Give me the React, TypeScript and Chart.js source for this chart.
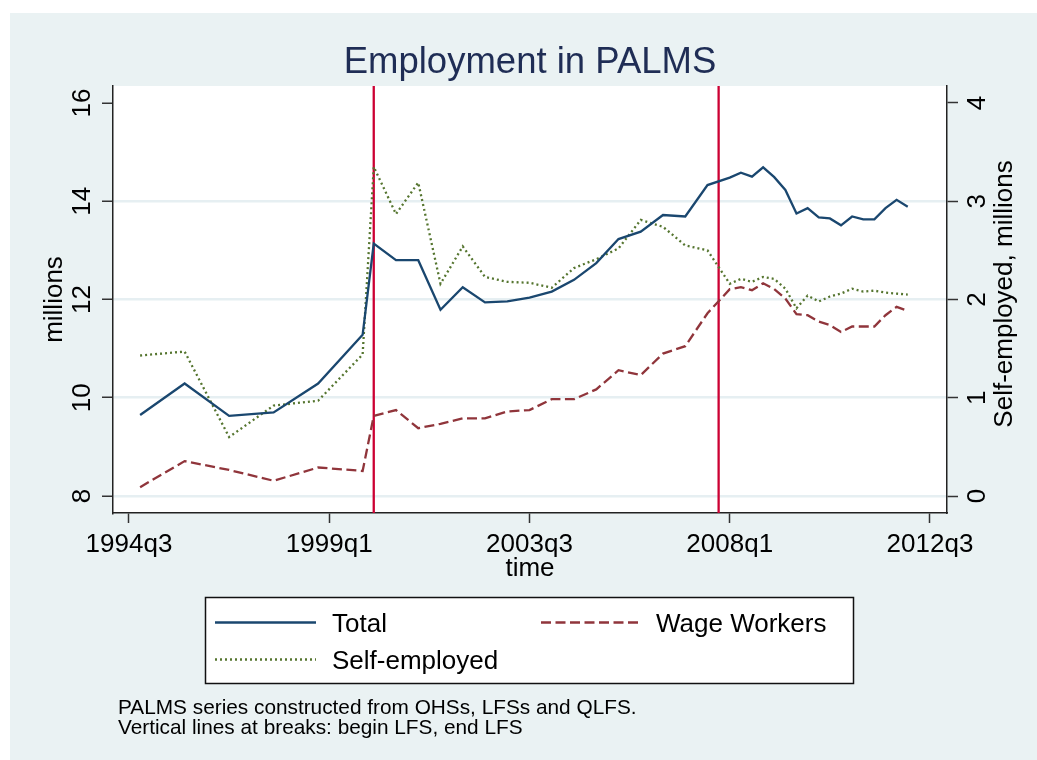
import React, { useEffect, useRef } from "react";
import { Chart, registerables } from "chart.js";

Chart.register(...registerables);

// ---------------- data ----------------
const quarters = [
  "1994q4", "1995q4", "1996q4", "1997q4", "1998q4", "1999q4",
  "2000q1", "2000q3", "2001q1", "2001q3", "2002q1", "2002q3", "2003q1", "2003q3",
  "2004q1", "2004q3", "2005q1", "2005q3", "2006q1", "2006q3", "2007q1", "2007q3",
  "2008q1", "2008q2", "2008q3", "2008q4", "2009q1", "2009q2", "2009q3", "2009q4",
  "2010q1", "2010q2", "2010q3", "2010q4", "2011q1", "2011q2", "2011q3", "2011q4", "2012q1",
];

const totalEmployment = [
  9.65, 10.29, 9.63, 9.7, 10.29, 11.28,
  13.14, 12.8, 12.8, 11.79, 12.25, 11.94, 11.96, 12.04,
  12.16, 12.4, 12.74, 13.23, 13.38, 13.72, 13.69, 14.33,
  14.48, 14.58, 14.5, 14.69, 14.49, 14.23, 13.75, 13.86,
  13.67, 13.65, 13.51, 13.69, 13.63, 13.63, 13.86, 14.03, 13.89,
];

const wageWorkers = [
  8.18, 8.71, 8.53, 8.31, 8.58, 8.51,
  9.63, 9.75, 9.38, 9.47, 9.58, 9.58, 9.72, 9.75,
  9.97, 9.97, 10.17, 10.56, 10.46, 10.9, 11.05, 11.72,
  12.21, 12.25, 12.19, 12.33, 12.21, 12.02, 11.7, 11.68,
  11.55, 11.48, 11.34, 11.45, 11.45, 11.45, 11.68, 11.85, 11.77,
];

const selfEmployed = [
  1.43, 1.47, 0.6, 0.92, 0.97, 1.44,
  3.35, 2.87, 3.19, 2.16, 2.54, 2.23, 2.18, 2.17,
  2.12, 2.32, 2.41, 2.52, 2.81, 2.74, 2.55, 2.5,
  2.16, 2.21, 2.18, 2.23, 2.21, 2.11, 1.91, 2.04,
  1.98, 2.03, 2.06, 2.11, 2.08, 2.09, 2.07, 2.06, 2.05,
];

const xTickLabels = ["1994q3", "1999q1", "2003q3", "2008q1", "2012q3"];
const leftTicks = [8, 10, 12, 14, 16];
const rightTicks = [0, 1, 2, 3, 4];
const breakQuarters = ["2000q1", "2007q4"];

const seriesNames = ["Total", "Wage Workers", "Self-employed"];
const titleText = "Employment in PALMS";
const xTitle = "time";
const leftTitle = "millions";
const rightTitle = "Self-employed, millions";
const noteLines = [
  "PALMS series constructed from OHSs, LFSs and QLFS.",
  "Vertical lines at breaks: begin LFS, end LFS",
];

// ---------------- styles ----------------
const W = 1037;
const H = 760;
const BG = "#eaf2f3";
const GRID = "#e6eff2";
const TITLE_COLOR = "#1f2d55";
const C_TOTAL = "#1a476f";
const C_WAGE = "#90353b";
const C_SELF = "#55752f";
const C_BREAK = "#cc0033";
const AXIS = "#333333";
const FONT = '"Liberation Sans", Arial, Helvetica, sans-serif';

const qIndex = (s: string) => {
  const [y, q] = s.split("q");
  return Number(y) * 4 + Number(q) - 1;
};

const toXY = (vals: number[]) => vals.map((v, i) => ({ x: qIndex(quarters[i]), y: v }));

const styles = [
  { color: C_TOTAL, dash: [] as number[], width: 2.3 },
  { color: C_WAGE, dash: [10, 4.5], width: 2.3 },
  { color: C_SELF, dash: [2, 3], width: 2.3 },
];

const decorPlugin = {
  id: "decor",
  beforeDraw(chart: any) {
    const { ctx, chartArea: a } = chart;
    ctx.save();
    ctx.fillStyle = "#ffffff";
    ctx.fillRect(0, 0, W, H);
    ctx.fillStyle = BG;
    ctx.fillRect(10, 13, W - 10, H - 13);
    ctx.fillStyle = "#ffffff";
    ctx.fillRect(a.left, a.top, a.right - a.left, a.bottom - a.top);
    ctx.restore();
  },
  beforeDatasetsDraw(chart: any) {
    const { ctx, chartArea: a } = chart;
    const xs = chart.scales.x;
    ctx.save();
    ctx.strokeStyle = C_BREAK;
    ctx.lineWidth = 2.3;
    breakQuarters.forEach((q) => {
      const px = xs.getPixelForValue(qIndex(q));
      ctx.beginPath();
      ctx.moveTo(px, a.top);
      ctx.lineTo(px, a.bottom);
      ctx.stroke();
    });
    ctx.restore();
  },
  afterDraw(chart: any) {
    const { ctx, chartArea: a } = chart;
    const xs = chart.scales.x;
    const yl = chart.scales.yLeft;
    const yr = chart.scales.yRight;
    const cx = (a.left + a.right) / 2;
    const cy = (a.top + a.bottom) / 2;
    ctx.save();
    // title
    ctx.fillStyle = TITLE_COLOR;
    ctx.font = `36.5px ${FONT}`;
    ctx.textAlign = "center";
    ctx.textBaseline = "alphabetic";
    ctx.fillText(titleText, cx, 73);

    // x tick labels
    ctx.fillStyle = "#000000";
    ctx.font = `26px ${FONT}`;
    xTickLabels.forEach((l) => {
      ctx.fillText(l, xs.getPixelForValue(qIndex(l)), 552);
    });
    ctx.fillText(xTitle, cx, 576);

    const rotText = (t: string, x: number, y: number) => {
      ctx.save();
      ctx.translate(x, y);
      ctx.rotate(-Math.PI / 2);
      ctx.textAlign = "center";
      ctx.textBaseline = "alphabetic";
      ctx.fillText(t, 0, 0);
      ctx.restore();
    };
    leftTicks.forEach((v) => rotText(String(v), 90, yl.getPixelForValue(v)));
    rightTicks.forEach((v) => rotText(String(v), 985, yr.getPixelForValue(v)));
    rotText(leftTitle, 61.5, cy);
    rotText(rightTitle, 1011.5, 294);

    // legend
    ctx.fillStyle = "#ffffff";
    ctx.fillRect(205, 597, 648, 86);
    ctx.strokeStyle = "#111111";
    ctx.lineWidth = 1.5;
    ctx.strokeRect(205.5, 597.5, 648, 86);
    const entries = [
      { x: 215, y: 622.5, tx: 332, ty: 632, i: 0 },
      { x: 541, y: 622.5, tx: 656, ty: 632, i: 1 },
      { x: 215, y: 659.5, tx: 332, ty: 668.5, i: 2 },
    ];
    entries.forEach((e) => {
      const s = styles[e.i];
      ctx.save();
      ctx.strokeStyle = s.color;
      ctx.lineWidth = s.width;
      ctx.setLineDash(s.dash);
      ctx.beginPath();
      ctx.moveTo(e.x, e.y);
      ctx.lineTo(e.x + 101, e.y);
      ctx.stroke();
      ctx.restore();
      ctx.fillStyle = "#000000";
      ctx.font = `26px ${FONT}`;
      ctx.textAlign = "left";
      ctx.fillText(seriesNames[e.i], e.tx, e.ty);
    });

    // note
    ctx.font = `20.8px ${FONT}`;
    ctx.textAlign = "left";
    noteLines.forEach((l, i) => ctx.fillText(l, 118, 714 + i * 20));
    ctx.restore();
  },
};

export default function App() {
  const ref = useRef<HTMLCanvasElement | null>(null);
  useEffect(() => {
    if (!ref.current) return;
    const mk = (vals: number[], i: number, axis: string) => ({
      label: seriesNames[i],
      data: toXY(vals),
      yAxisID: axis,
      borderColor: styles[i].color,
      backgroundColor: styles[i].color,
      borderWidth: styles[i].width,
      borderDash: styles[i].dash,
      pointRadius: 0,
      tension: 0,
      fill: false,
    });
    const chart = new Chart(ref.current, {
      type: "line",
      data: {
        datasets: [
          mk(totalEmployment, 0, "yLeft"),
          mk(wageWorkers, 1, "yLeft"),
          mk(selfEmployed, 2, "yRight"),
        ],
      },
      options: {
        responsive: false,
        animation: false,
        devicePixelRatio: 1,
        layout: { padding: { top: 86, left: 0, right: 0, bottom: 0 } },
        plugins: { legend: { display: false }, title: { display: false }, tooltip: { enabled: false } },
        scales: {
          x: {
            type: "linear",
            min: qIndex("1994q3") - 16 / 11.125,
            max: qIndex("2012q3") + 17 / 11.125,
            afterBuildTicks: (s: any) => {
              s.ticks = xTickLabels.map((l) => ({ value: qIndex(l) }));
            },
            afterFit: (s: any) => {
              s.height = 247;
            },
            ticks: { display: false },
            grid: {
              drawOnChartArea: false,
              drawTicks: true,
              tickLength: 10,
              tickColor: AXIS,
              tickWidth: 1.5,
            },
            border: { display: true, color: "#222222", width: 1.5 },
          },
          yLeft: {
            type: "linear",
            position: "left",
            min: 8 - 17 / 49.125,
            max: 16 + 17 / 49.125,
            afterBuildTicks: (s: any) => {
              s.ticks = leftTicks.map((v) => ({ value: v }));
            },
            afterFit: (s: any) => {
              s.width = 113;
            },
            ticks: { display: false },
            grid: {
              color: (c: any) => (c.tick && c.tick.value === 16 ? "rgba(0,0,0,0)" : GRID),
              lineWidth: 2.5,
              drawTicks: true,
              tickLength: 11,
              tickColor: AXIS,
              tickWidth: 1.5,
            },
            border: { display: true, color: "#222222", width: 1.5 },
          },
          yRight: {
            type: "linear",
            position: "right",
            min: -17 / 98.25,
            max: 4 + 17 / 98.25,
            afterBuildTicks: (s: any) => {
              s.ticks = rightTicks.map((v) => ({ value: v }));
            },
            afterFit: (s: any) => {
              s.width = 90;
            },
            ticks: { display: false },
            grid: {
              drawOnChartArea: false,
              drawTicks: true,
              tickLength: 11,
              tickColor: AXIS,
              tickWidth: 1.5,
            },
            border: { display: true, color: "#222222", width: 1.5 },
          },
        },
      },
      plugins: [decorPlugin],
    } as any);
    return () => chart.destroy();
  }, []);
  return (
    <div style={{ position: "absolute", left: 0, top: 0, width: W, height: H }}>
      <canvas ref={ref} width={W} height={H} style={{ width: W, height: H, display: "block" }} />
    </div>
  );
}
